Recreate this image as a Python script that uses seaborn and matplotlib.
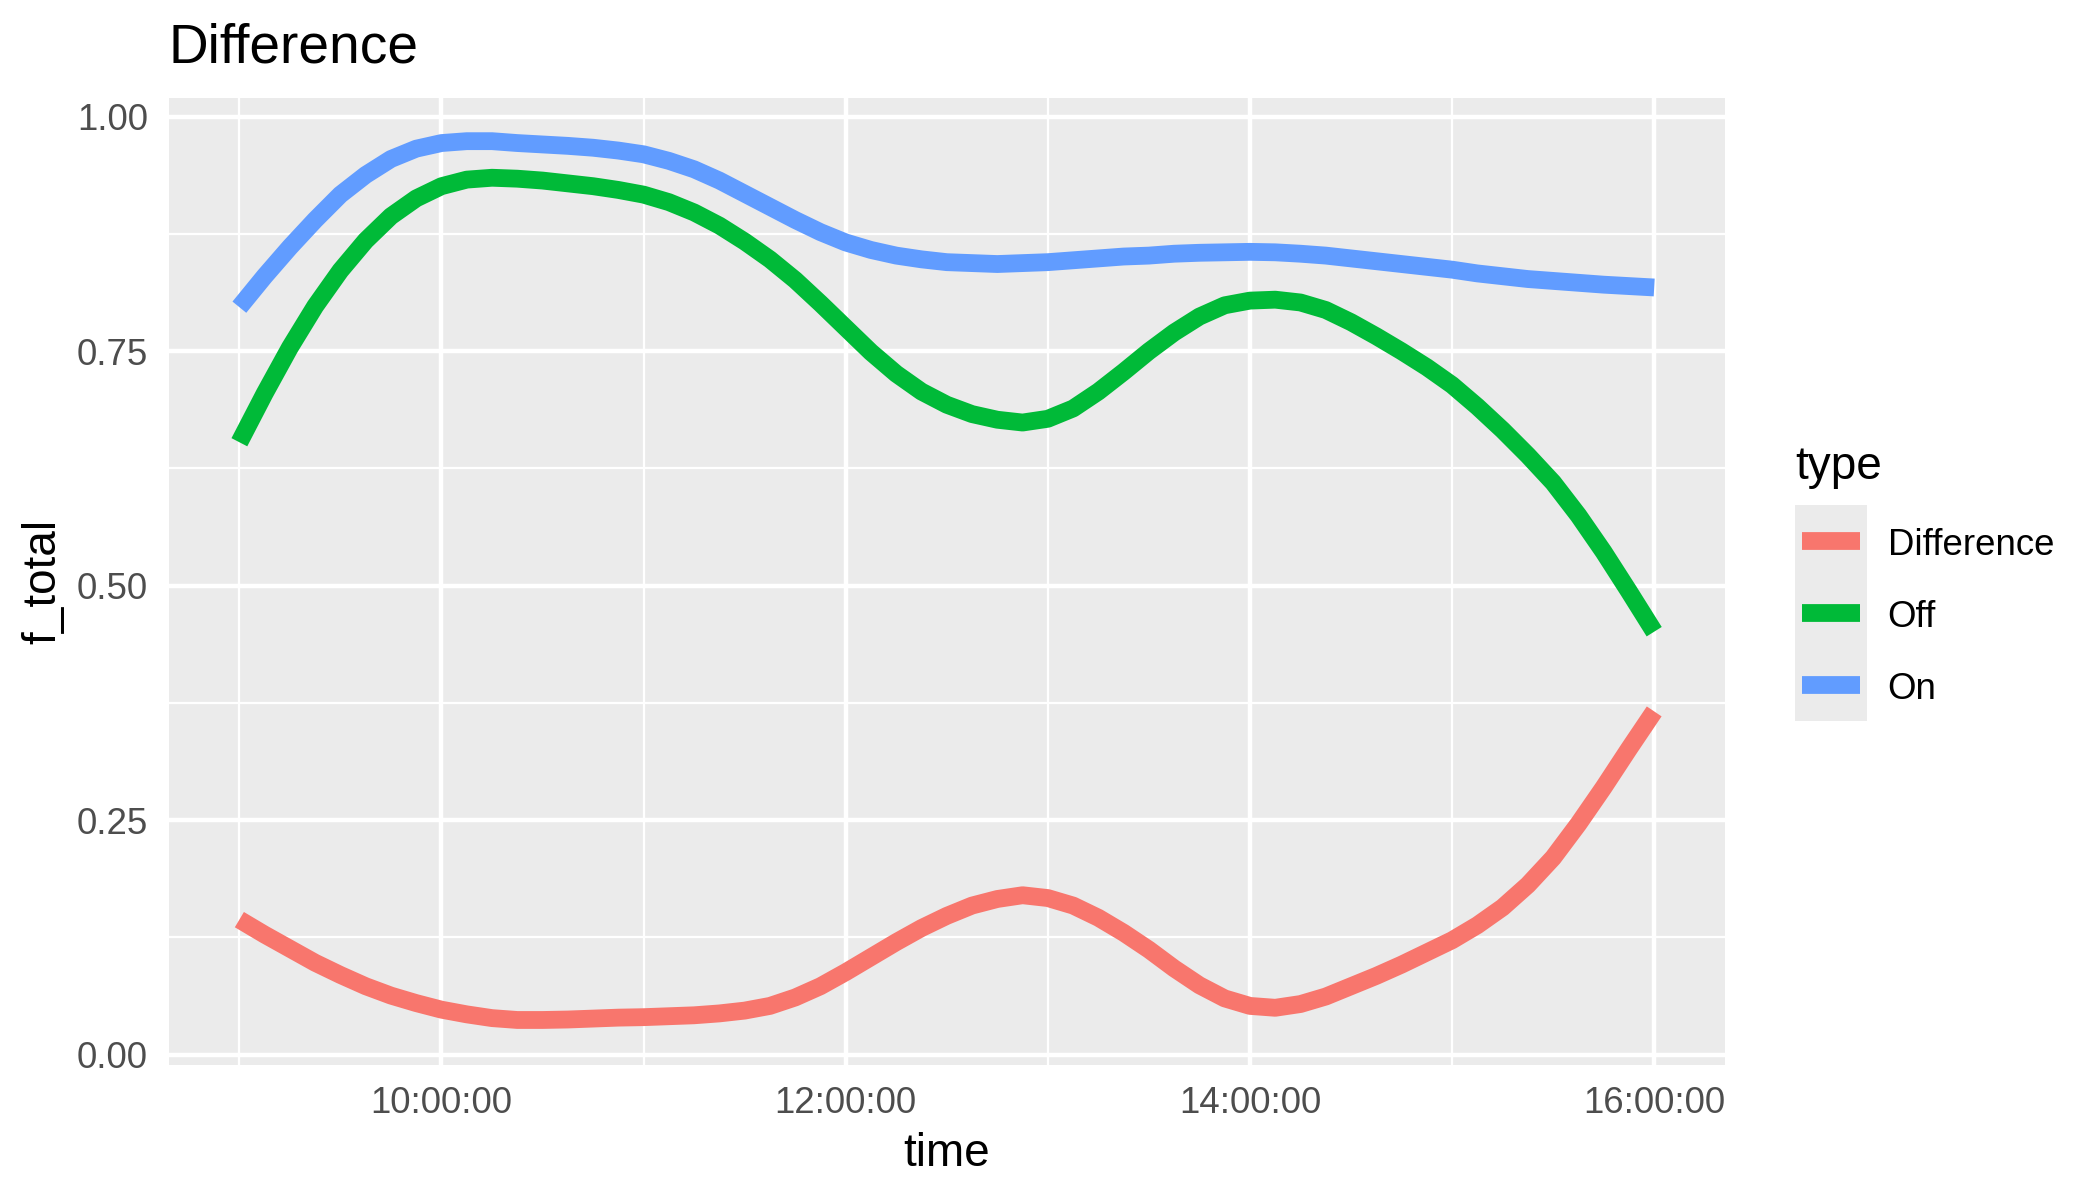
import numpy as np
import pandas as pd
import matplotlib
matplotlib.use("Agg")
import matplotlib.pyplot as plt
from matplotlib.patches import Rectangle
from matplotlib.lines import Line2D
import seaborn as sns

# ---------------- data (every 7.5 minutes) ----------------
times = ["09:00:00", "09:07:30", "09:15:00", "09:22:30", "09:30:00", "09:37:30",
         "09:45:00", "09:52:30", "10:00:00", "10:07:30", "10:15:00", "10:22:30",
         "10:30:00", "10:37:30", "10:45:00", "10:52:30", "11:00:00", "11:07:30",
         "11:15:00", "11:22:30", "11:30:00", "11:37:30", "11:45:00", "11:52:30",
         "12:00:00", "12:07:30", "12:15:00", "12:22:30", "12:30:00", "12:37:30",
         "12:45:00", "12:52:30", "13:00:00", "13:07:30", "13:15:00", "13:22:30",
         "13:30:00", "13:37:30", "13:45:00", "13:52:30", "14:00:00", "14:07:30",
         "14:15:00", "14:22:30", "14:30:00", "14:37:30", "14:45:00", "14:52:30",
         "15:00:00", "15:07:30", "15:15:00", "15:22:30", "15:30:00", "15:37:30",
         "15:45:00", "15:52:30", "16:00:00"]

on_vals = [0.797, 0.830, 0.861, 0.890, 0.917, 0.938,
           0.955, 0.966, 0.972, 0.974, 0.974, 0.972,
           0.9705, 0.969, 0.967, 0.964, 0.960, 0.953,
           0.944, 0.932, 0.918, 0.904, 0.890, 0.877,
           0.866, 0.858, 0.852, 0.848, 0.845, 0.844,
           0.843, 0.844, 0.845, 0.847, 0.849, 0.851,
           0.852, 0.854, 0.855, 0.8555, 0.856, 0.8555,
           0.854, 0.852, 0.849, 0.846, 0.843, 0.840,
           0.837, 0.833, 0.830, 0.827, 0.825, 0.823,
           0.821, 0.8195, 0.818]

off_vals = [0.653, 0.705, 0.754, 0.798, 0.836, 0.868,
            0.894, 0.913, 0.926, 0.933, 0.935, 0.934,
            0.932, 0.929, 0.926, 0.922, 0.917, 0.909,
            0.898, 0.884, 0.867, 0.848, 0.826, 0.801,
            0.775, 0.749, 0.726, 0.707, 0.693, 0.683,
            0.677, 0.674, 0.678, 0.689, 0.707, 0.728,
            0.750, 0.770, 0.787, 0.799, 0.804, 0.805,
            0.802, 0.794, 0.781, 0.766, 0.750, 0.733,
            0.714, 0.691, 0.666, 0.639, 0.610, 0.575,
            0.536, 0.494, 0.451]

diff_vals = [0.144, 0.128, 0.113, 0.098, 0.085, 0.073,
             0.063, 0.055, 0.048, 0.043, 0.039, 0.037,
             0.037, 0.0375, 0.0385, 0.0395, 0.040, 0.041,
             0.042, 0.044, 0.047, 0.052, 0.061, 0.073,
             0.088, 0.104, 0.120, 0.135, 0.148, 0.159,
             0.166, 0.170, 0.167, 0.159, 0.146, 0.130,
             0.112, 0.092, 0.074, 0.060, 0.052, 0.050,
             0.054, 0.062, 0.073, 0.084, 0.096, 0.109,
             0.122, 0.138, 0.157, 0.181, 0.210, 0.246,
             0.285, 0.326, 0.366]

types = ["Difference", "Off", "On"]
colors = ["#F8766D", "#00BA38", "#619CFF"]
x_tick_labels = ["10:00:00", "12:00:00", "14:00:00", "16:00:00"]
x_minor_labels = ["09:00:00", "11:00:00", "13:00:00", "15:00:00"]
y_ticks = [0.00, 0.25, 0.50, 0.75, 1.00]
y_minor = [0.125, 0.375, 0.625, 0.875]

DAY = "2000-01-01 "
n = len(times)
df = pd.DataFrame({
    "time": pd.to_datetime([DAY + t for t in times] * 3),
    "f_total": diff_vals + off_vals + on_vals,
    "type": ["Difference"] * n + ["Off"] * n + ["On"] * n,
})

# ---------------- style ----------------
sns.set_style("whitegrid")
plt.rcParams["font.family"] = ["Liberation Sans", "DejaVu Sans"]
plt.rcParams["axes.facecolor"] = "#EBEBEB"

LW = 4.27
fig = plt.figure(figsize=(7, 4), dpi=300)
ax = fig.add_axes([0.0803, 0.1125, 0.7411, 0.8062])

sns.lineplot(data=df, x="time", y="f_total", hue="type", hue_order=types,
             palette=colors, linewidth=LW, errorbar=None, legend=False,
             ax=ax, solid_capstyle="butt", solid_joinstyle="round")

# axes limits (ggplot 5% expansion)
t_first = pd.Timestamp(DAY + times[0])
t_last = pd.Timestamp(DAY + times[-1])
pad = (t_last - t_first) * 0.05
ax.set_xlim(t_first - pad, t_last + pad)
ax.set_ylim(-0.011, 1.0205)

ax.set_xticks(pd.to_datetime([DAY + t for t in x_tick_labels]))
ax.set_xticklabels(x_tick_labels)
ax.set_xticks(pd.to_datetime([DAY + t for t in x_minor_labels]), minor=True)
ax.set_yticks(y_ticks)
ax.set_yticklabels([f"{v:.2f}" for v in y_ticks])
ax.set_yticks(y_minor, minor=True)

ax.set_facecolor("#EBEBEB")
for s in ax.spines.values():
    s.set_visible(False)
ax.set_axisbelow(True)
ax.grid(which="major", color="white", linewidth=1.07)
ax.grid(which="minor", color="white", linewidth=0.53)
ax.tick_params(which="major", length=2.75, width=1.07, color="#333333",
               labelcolor="#4D4D4D", labelsize=8.8, pad=2.2)
ax.tick_params(which="minor", length=0)

ax.set_xlabel("time", fontsize=11, color="black", labelpad=2.75)
ax.set_ylabel("f_total", fontsize=11, color="black", labelpad=2.75)
ax.set_title("Difference", loc="left", fontsize=13.2, color="black", pad=8.45)


# ---------------- legend (ggplot-like keys) ----------------
class KeyHandler:
    shift = 0.72  # points, moves the key box relative to label baseline

    def legend_artist(self, legend, orig_handle, fontsize, handlebox):
        w, h = handlebox.width, handlebox.height
        xd, yd = handlebox.xdescent, handlebox.ydescent
        x0 = -xd
        y0 = -yd + self.shift
        tr = handlebox.get_transform()
        bg = Rectangle((x0, y0), w, h, facecolor="#EBEBEB", edgecolor="none",
                       transform=tr)
        ym = y0 + h / 2
        ln = Line2D([x0 + 0.1 * w, x0 + 0.9 * w], [ym, ym],
                    color=orig_handle.get_color(),
                    linewidth=orig_handle.get_linewidth(),
                    solid_capstyle="butt", transform=tr)
        handlebox.add_artist(bg)
        handlebox.add_artist(ln)
        return ln


handles = [Line2D([], [], color=c, linewidth=LW) for c in colors]
leg = ax.legend(handles=handles, labels=types, title="type",
                handler_map={Line2D: KeyHandler()},
                loc="upper left", bbox_to_anchor=(1795 / 2100, 1 - 445 / 1200),
                bbox_transform=fig.transFigure, frameon=False,
                borderpad=0, borderaxespad=0, labelspacing=0,
                handlelength=1.9636, handleheight=2.644, handletextpad=0.56,
                fontsize=8.8, title_fontsize=11, alignment="left")
leg._legend_box.sep = 4.56
for t in leg.get_texts():
    t.set_color("black")
leg.get_title().set_color("black")

fig.savefig("out.png", dpi=300, facecolor="white")
